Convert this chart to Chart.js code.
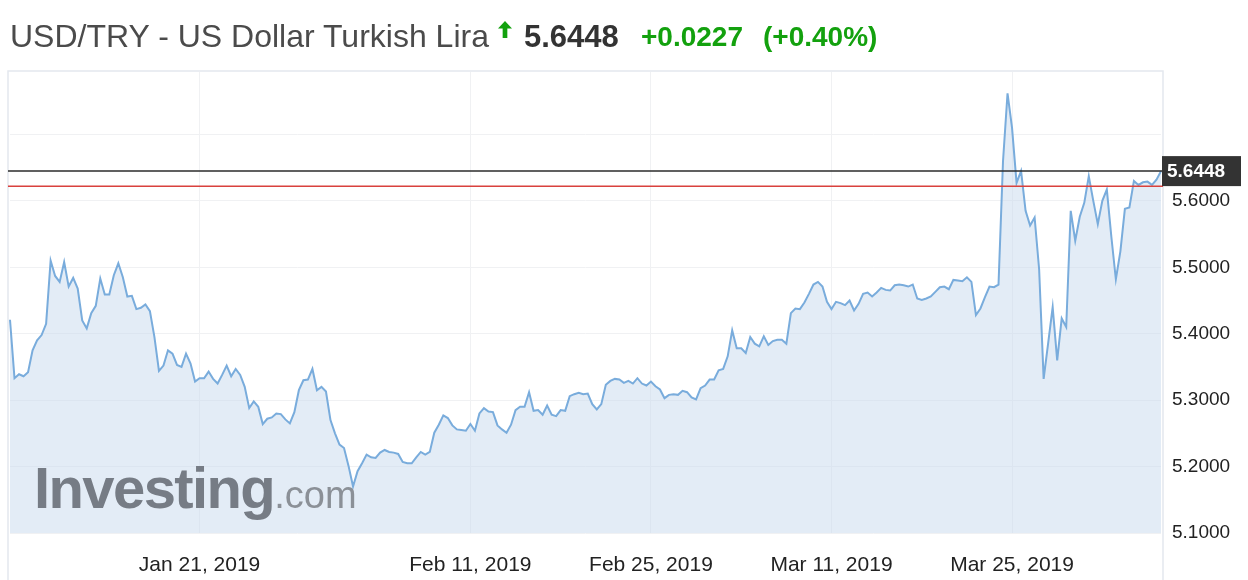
<!DOCTYPE html>
<html lang="en">
<head>
<meta charset="UTF-8">
<title>USD/TRY - US Dollar Turkish Lira</title>
<script src="https://cdn.jsdelivr.net/npm/chart.js"></script>
<style>
  body { margin: 0; background: #fff; font-family: "Liberation Sans", Arial, sans-serif; }
  .wrap { position: relative; width: 1248px; height: 580px; overflow: hidden; }
  #chart { position: absolute; left: 0; top: 0; }
  .head { position: absolute; top: 20px; font-size: 30px; line-height: 34px; white-space: nowrap; }
  .name { left: 10px; color: #4b4b4b; font-size: 32px; top: 19px; }
  .arrow { position: absolute; left: 498px; top: 21px; }
  .price { left: 524px; color: #333; font-weight: bold; font-size: 31px; }
  .chg { left: 641px; color: #13a10e; font-weight: bold; font-size: 28px; }
  .pct { left: 763px; color: #13a10e; font-weight: bold; font-size: 28px; }
  .mark { position: absolute; left: 34px; top: 454px; white-space: nowrap; pointer-events: none; }
  .mark b { font-size: 58px; color: #767c85; letter-spacing: -1.6px; }
  .mark span { font-size: 38px; color: #8b9097; }
</style>
</head>
<body>
<div class="wrap">
  <canvas id="chart" width="1248" height="580"></canvas>
  <div class="head name">USD/TRY - US Dollar Turkish Lira</div>
  <svg class="arrow" width="14" height="17" viewBox="0 0 15 18"><path d="M7.5 0 L15 8 L10 8 L10 18 L5 18 L5 8 L0 8 Z" fill="#13a10e"/></svg>
  <div class="head price" id="price"></div>
  <div class="head chg" id="chg"></div>
  <div class="head pct" id="pct"></div>
  <div class="mark"><b>Investing</b><span>.com</span></div>
</div>
<script>
  // quote header
  const lastPrice = 5.6448;
  const prevClose = 5.6221;
  const change = 0.0227;
  const changePct = 0.40;

  // 4 samples per trading day, Jan 7 - Apr 4 2019
  const samplesPerDay = 4;
  const firstDay = '2019-01-07';
  const lastDay = '2019-04-04';
  const xTickLabels = ['Jan 21, 2019', 'Feb 11, 2019', 'Feb 25, 2019', 'Mar 11, 2019', 'Mar 25, 2019'];

  const janValues = [
    5.421, 5.333, 5.339, 5.336, 5.342, 5.375, 5.390, 5.398, 5.415, 5.510,
    5.487, 5.478, 5.508, 5.471, 5.484, 5.468, 5.420, 5.408, 5.431, 5.442,
    5.483, 5.459, 5.459, 5.488, 5.506, 5.485, 5.456, 5.457, 5.437, 5.439,
    5.444, 5.434, 5.395, 5.344, 5.352, 5.375, 5.370, 5.353, 5.350, 5.370,
    5.355, 5.328, 5.333, 5.333, 5.343, 5.332, 5.325, 5.338, 5.352, 5.336,
    5.347, 5.338, 5.320, 5.288, 5.298, 5.290, 5.264, 5.272, 5.274, 5.280,
    5.279, 5.271, 5.265, 5.282, 5.315, 5.330, 5.331, 5.347, 5.315, 5.320,
    5.313, 5.270, 5.250, 5.233, 5.228, 5.201
  ];
  const febValues = [
    5.170, 5.193, 5.205, 5.218, 5.214, 5.213, 5.221, 5.225, 5.222, 5.221,
    5.219, 5.207, 5.205, 5.205, 5.214, 5.222, 5.218, 5.222, 5.251, 5.263,
    5.277, 5.273, 5.262, 5.256, 5.255, 5.254, 5.264, 5.254, 5.280, 5.288,
    5.283, 5.282, 5.262, 5.256, 5.251, 5.263, 5.285, 5.290, 5.290, 5.312,
    5.284, 5.285, 5.278, 5.292, 5.278, 5.276, 5.285, 5.284, 5.306, 5.309,
    5.311, 5.309, 5.310, 5.294, 5.286, 5.294, 5.323, 5.329, 5.332, 5.331,
    5.326, 5.329, 5.325, 5.333, 5.325, 5.322, 5.328, 5.321, 5.316, 5.303,
    5.308, 5.309, 5.308, 5.314, 5.312, 5.304, 5.301, 5.318, 5.322, 5.331
  ];
  const marValues = [
    5.331, 5.345, 5.347, 5.366, 5.405, 5.378, 5.378, 5.371, 5.395, 5.385,
    5.381, 5.396, 5.383, 5.389, 5.391, 5.391, 5.385, 5.431, 5.438, 5.437,
    5.447, 5.460, 5.474, 5.478, 5.471, 5.448, 5.437, 5.448, 5.446, 5.443,
    5.450, 5.435, 5.445, 5.460, 5.462, 5.456, 5.462, 5.469, 5.466, 5.465,
    5.473, 5.474, 5.473, 5.471, 5.474, 5.453, 5.451, 5.453, 5.456, 5.463,
    5.470, 5.471, 5.467, 5.481, 5.480, 5.479, 5.485, 5.478, 5.428, 5.438,
    5.455, 5.471, 5.470, 5.474, 5.660, 5.762, 5.710, 5.627, 5.645, 5.585,
    5.563, 5.575, 5.497, 5.332, 5.386, 5.440, 5.360, 5.423, 5.410, 5.585,
    5.540, 5.576, 5.597, 5.637
  ];
  const aprValues = [
    5.600, 5.565, 5.600, 5.617, 5.546, 5.482, 5.524, 5.588, 5.590, 5.630,
    5.624, 5.628, 5.629, 5.624, 5.632, 5.6448
  ];

  const values = [...janValues, ...febValues, ...marValues, ...aprValues];

  // one label per sample: the trading day it belongs to
  const labels = [];
  const end = new Date(lastDay + 'T00:00:00Z');
  for (let d = new Date(firstDay + 'T00:00:00Z'); d <= end; d.setUTCDate(d.getUTCDate() + 1)) {
    const wd = d.getUTCDay();
    if (wd === 0 || wd === 6) continue;
    const s = d.toLocaleDateString('en-US', { month: 'short', day: 'numeric', year: 'numeric', timeZone: 'UTC' });
    for (let k = 0; k < samplesPerDay; k++) labels.push(s);
  }

  document.getElementById('price').textContent = lastPrice.toFixed(4);
  document.getElementById('chg').textContent = '+' + change.toFixed(4);
  document.getElementById('pct').textContent = '(+' + changePct.toFixed(2) + '%)';

  const frame = {
    id: 'frame',
    beforeDraw(chart) {
      const { ctx, chartArea: a } = chart;
      ctx.save();
      ctx.strokeStyle = '#e4e8ee';
      ctx.lineWidth = 1.5;
      ctx.beginPath();
      ctx.moveTo(a.left - 2, chart.height);
      ctx.lineTo(a.left - 2, a.top - 1);
      ctx.lineTo(a.right + 2, a.top - 1);
      ctx.lineTo(a.right + 2, chart.height);
      ctx.stroke();
      ctx.restore();
    }
  };

  const priceLines = {
    id: 'priceLines',
    afterDatasetsDraw(chart) {
      const { ctx, chartArea: a, scales: { y } } = chart;
      const yPrev = y.getPixelForValue(prevClose);
      const yLast = y.getPixelForValue(lastPrice);
      ctx.save();
      ctx.lineWidth = 1.5;
      ctx.strokeStyle = '#d9413d';
      ctx.beginPath(); ctx.moveTo(a.left - 2, yPrev); ctx.lineTo(a.right + 2, yPrev); ctx.stroke();
      ctx.strokeStyle = '#2b2b2b';
      ctx.beginPath(); ctx.moveTo(a.left - 2, yLast); ctx.lineTo(a.right + 2, yLast); ctx.stroke();
      // price badge
      ctx.fillStyle = '#333';
      ctx.fillRect(a.right + 1, yLast - 15, 79, 30);
      ctx.fillStyle = '#fff';
      ctx.font = 'bold 19px "Liberation Sans", Arial, sans-serif';
      ctx.textBaseline = 'middle';
      ctx.fillText(lastPrice.toFixed(4), a.right + 6, yLast + 1);
      ctx.restore();
    }
  };

  Chart.defaults.font.family = '"Liberation Sans", Arial, sans-serif';

  new Chart(document.getElementById('chart'), {
    type: 'line',
    data: {
      labels: labels,
      datasets: [{
        label: 'USD/TRY',
        data: values,
        borderColor: '#79acdc',
        borderWidth: 2,
        backgroundColor: 'rgba(200,218,238,0.5)',
        fill: 'start',
        pointRadius: 0,
        tension: 0
      }]
    },
    options: {
      responsive: false,
      animation: false,
      layout: { padding: { top: 72, left: 10, right: 0, bottom: 0 } },
      plugins: { legend: { display: false }, tooltip: { enabled: false } },
      scales: {
        x: {
          grid: { color: '#f0f1f3', drawTicks: false },
          border: { display: false },
          ticks: { autoSkip: false, maxRotation: 0, padding: 20, color: '#222', font: { size: 21 } },
          afterBuildTicks: axis => {
            axis.ticks = xTickLabels.map(t => ({ value: labels.indexOf(t) + samplesPerDay / 2 }));
          },
          afterFit: s => { s.height = 47; }
        },
        y: {
          position: 'right',
          min: 5.1,
          max: 5.794,
          grid: { color: '#f0f1f3', drawTicks: false },
          border: { display: false },
          ticks: {
            stepSize: 0.1,
            includeBounds: false,
            padding: 11,
            color: '#222',
            font: { size: 19 },
            callback: v => v <= 5.6001 ? v.toFixed(4) : ''
          },
          afterFit: s => { s.width = 87; }
        }
      }
    },
    plugins: [frame, priceLines]
  });
</script>
</body>
</html>
